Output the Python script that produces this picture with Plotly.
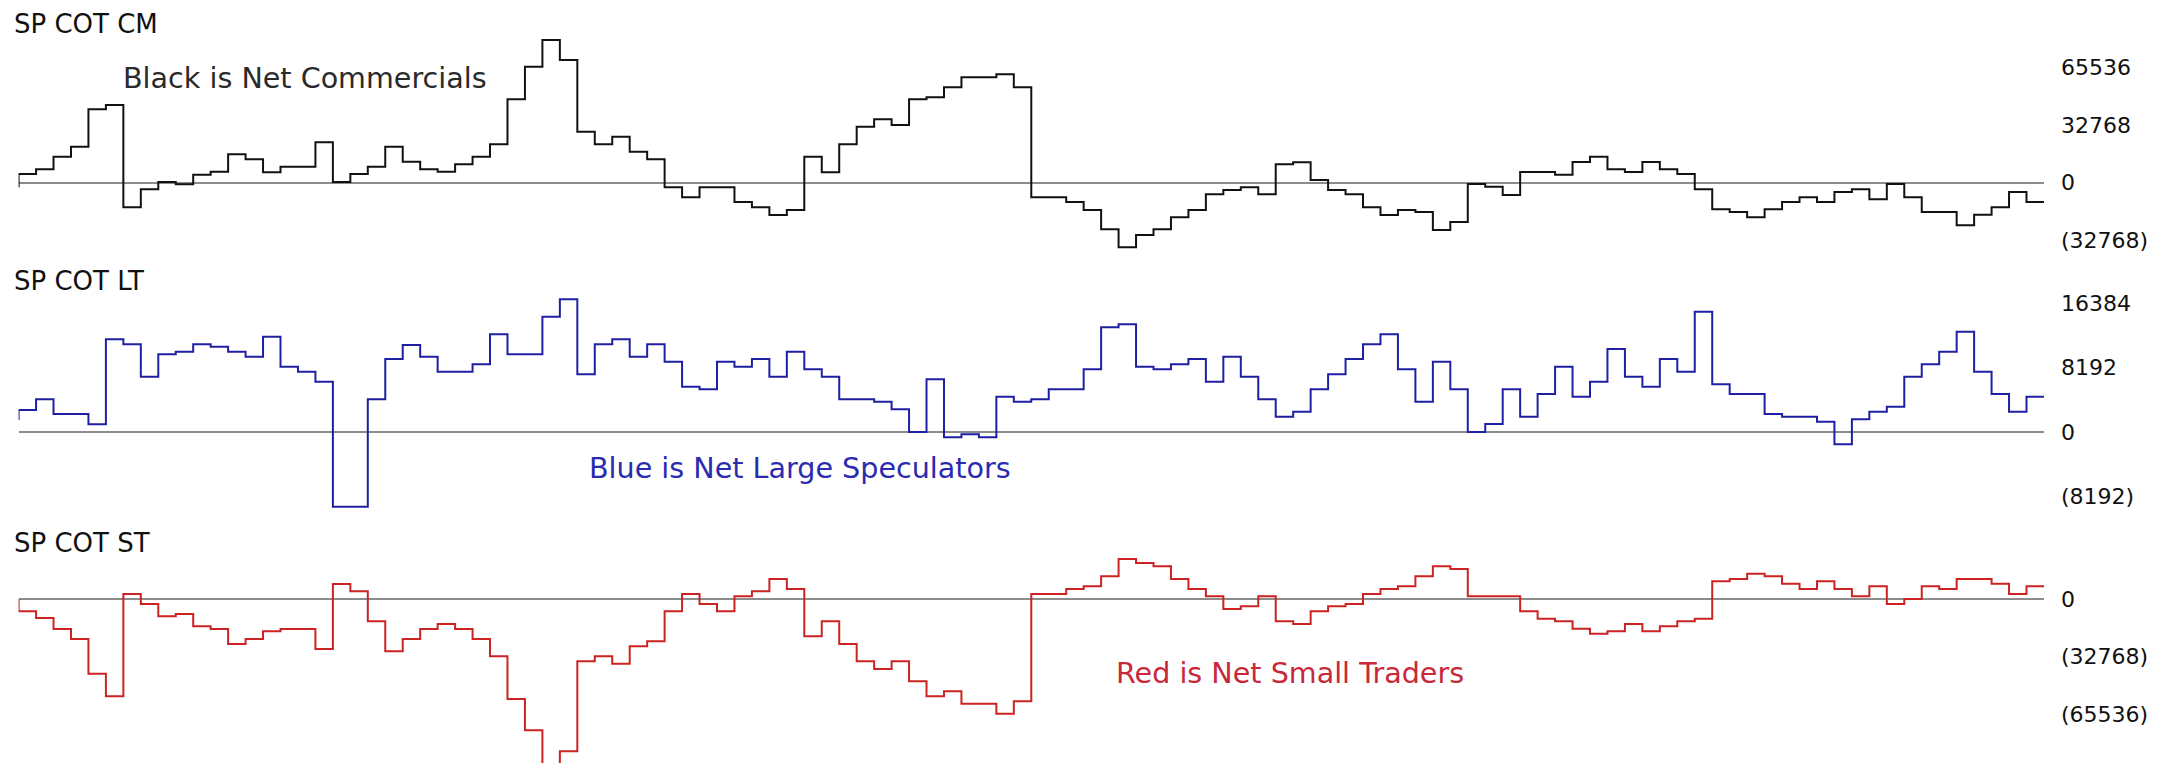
import plotly.graph_objects as go

# ---- data ----
periods = list(range(117))

net_commercials = [
    -2660, 4940, 7600, 14820, 20520, 41800, 44270, -14060, -3800, 380,
    -950, 4560, 6270, 16150, 13300, 5890, 9120, 9120, 22990, 380,
    4940, 9120, 20520, 11970, 7600, 6270, 10450, 14820, 21850, 47500,
    66120, 81320, 69920, 29070, 21850, 26220, 17670, 13300, -2660, -8360,
    -2660, -2660, -11020, -14060, -18430, -15580, 14820, 5890, 21850, 31920,
    36100, 32870, 47500, 48640, 54340, 60040, 60040, 61750, 54340, -8360,
    -8360, -11020, -15580, -26600, -36860, -29830, -26600, -19760, -15580, -6650,
    -4180, -2660, -6650, 10450, 11590, 1520, -4180, -6650, -14060, -18430,
    -15580, -16720, -26980, -22420, -760, -2280, -7030, 6080, 6080, 4560,
    11780, 14820, 7600, 6080, 11780, 7600, 4940, -3800, -15200, -16720,
    -19760, -15200, -11020, -8360, -11020, -5320, -3800, -9500, -760, -8360,
    -16720, -16720, -24320, -18240, -14060, -5320, -11020,
]

net_large_specs = [
    1526, 2798, 4155, 2290, 2290, 975, 11787, 11151, 7038, 9879,
    10218, 11151, 10854, 10218, 9582, 12126, 8310, 7674, 6402, -9498,
    -9498, 4155, 9286, 11066, 9582, 7674, 7674, 8607, 12423, 9879,
    9879, 14670, 16875, 7335, 11151, 11787, 9582, 11151, 8946, 5766,
    5427, 8946, 8310, 9286, 7038, 10218, 7971, 7038, 4155, 4155,
    3858, 2883, 0, 6699, -678, -297, -678, 4494, 3858, 4155,
    5427, 5427, 7971, 13314, 13695, 8310, 7971, 8607, 9286, 6402,
    9582, 7038, 4155, 1950, 2586, 5427, 7335, 9286, 11151, 12423,
    7971, 3858, 8946, 5427, 0, 1018, 5427, 1950, 4834, 8310,
    4494, 6402, 10558, 7038, 5766, 9286, 7674, 15306, 6063, 4834,
    4834, 2290, 1950, 1950, 1314, -1569, 1611, 2586, 3222, 7038,
    8607, 10218, 12762, 7674, 4834, 2586, 4494,
]

net_small_traders = [
    0, -7030, -10830, -17100, -22800, -42560, -55480, 2850, -2850, -9880,
    -8550, -15580, -17100, -25650, -22800, -18430, -17100, -17100, -28500, 8550,
    4370, -12730, -29830, -22800, -17100, -14250, -17100, -22800, -32680, -57000,
    -74860, -104880, -86830, -35530, -32680, -36860, -26980, -24130, -7030, 2850,
    -2850, -7030, 1520, 4370, 11400, 5700, -21280, -12730, -25650, -35530,
    -39900, -35530, -46930, -55480, -52630, -59660, -59660, -65360, -58330, 2850,
    2850, 5700, 7220, 12920, 22800, 20520, 18620, 11400, 5700, 1520,
    -5700, -4180, 1520, -12730, -14250, -7030, -4180, -2850, 2850, 5700,
    7220, 12920, 18620, 17100, 1520, 1520, 1520, -7030, -11210, -12730,
    -16910, -19760, -18430, -14250, -18430, -15580, -12730, -11210, 10070, 11400,
    14440, 12920, 8740, 5700, 10070, 5700, 1520, 7220, -2850, 0,
    7220, 5700, 11400, 11400, 8740, 2850, 7220,
]

panel_titles = ["SP COT CM", "SP COT LT", "SP COT ST"]
cm_tickvals = [65536, 32768, 0, -32768]
cm_ticktext = ["65536", "32768", "0", "(32768)"]
lt_tickvals = [16384, 8192, 0, -8192]
lt_ticktext = ["16384", "8192", "0", "(8192)"]
st_tickvals = [0, -32768, -65536]
st_ticktext = ["0", "(32768)", "(65536)"]

# ---- figure ----
W, H = 2166, 763
BLACK = "#111111"
BLUE = "#1f1fa3"
RED = "#cc2222"
LABEL_FONT = "DejaVu Sans"

def py(pix):
    return 1 - pix / H

fig = go.Figure()
fig.add_trace(go.Scatter(x=periods, y=net_commercials, mode="lines",
                         line=dict(shape="vh", color=BLACK, width=2),
                         xaxis="x", yaxis="y", hoverinfo="skip"))
fig.add_trace(go.Scatter(x=periods, y=net_large_specs, mode="lines",
                         line=dict(shape="vh", color=BLUE, width=2),
                         xaxis="x2", yaxis="y2", hoverinfo="skip"))
fig.add_trace(go.Scatter(x=periods, y=net_small_traders, mode="lines",
                         line=dict(shape="vh", color=RED, width=2),
                         xaxis="x3", yaxis="y3", hoverinfo="skip"))

xdom = [18.6 / W, 2044 / W]
xrange_ = [0, (2044 - 18.6) / 17.46]

def xax(anchor):
    return dict(domain=xdom, range=xrange_, visible=False, anchor=anchor,
                fixedrange=True)

def yax(dom, rng, tv, tt):
    return dict(domain=dom, range=rng, side="right", anchor="free", position=xdom[1],
                tickvals=tv, ticktext=tt, showgrid=False, zeroline=True,
                zerolinecolor="#8c8c8c", zerolinewidth=1.5, showline=False,
                ticks="", ticklabelstandoff=16,
                tickfont=dict(family=LABEL_FONT, size=22, color="#111111"),
                fixedrange=True)

fig.update_layout(
    width=W, height=H,
    margin=dict(l=0, r=0, t=0, b=0),
    paper_bgcolor="white", plot_bgcolor="white",
    showlegend=False,
    xaxis=xax("y"), xaxis2=xax("y2"), xaxis3=xax("y3"),
    yaxis=yax([py(258), py(35)], [(182.7 - 258) * 570, (182.7 - 35) * 570],
              cm_tickvals, cm_ticktext),
    yaxis2=yax([py(512), py(285)], [(432 - 512) * 127.2, (432 - 285) * 127.2],
               lt_tickvals, lt_ticktext),
    yaxis3=yax([0, py(550)], [(599 - 763) * 570, (599 - 550) * 570],
               st_tickvals, st_ticktext),
)

title_ys = [24, 281, 543]
for t, yp in zip(panel_titles, title_ys):
    fig.add_annotation(text=t, xref="paper", yref="paper", x=12 / W, y=py(yp),
                       xanchor="left", yanchor="middle", showarrow=False,
                       font=dict(family=LABEL_FONT, size=26, color="#111111"))

notes = [
    ("Black is Net Commercials", 121, 78, "#2a2a2a"),
    ("Blue is Net Large Speculators", 587, 468, "#2b2bb0"),
    ("Red is Net Small Traders", 1114, 673, "#c8283a"),
]
for txt, xp, yp, col in notes:
    fig.add_annotation(text=txt, xref="paper", yref="paper", x=xp / W, y=py(yp),
                       xanchor="left", yanchor="middle", showarrow=False,
                       font=dict(family="DejaVu Sans", size=28.6, color=col))

fig.write_html("out.html", config={"displayModeBar": False},
               post_script="document.body.style.margin='0';")
